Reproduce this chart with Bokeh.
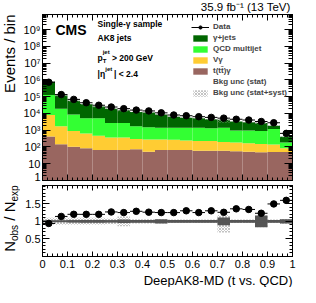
import math
from bokeh.plotting import figure
from bokeh.layouts import column, row
from bokeh.models import (ColumnDataSource, FixedTicker, LogAxis, LinearAxis, Label,
                          Legend, LegendItem, Range1d, Title)
from bokeh.core.properties import value
from bokeh.embed import file_html
from bokeh.resources import INLINE

# ---------------- data ----------------
bin_edges = [round(0.05 * i, 2) for i in range(21)]
tt_gamma = [427, 145, 102, 83, 66, 66, 66, 72, 52, 66, 66, 66, 60, 60, 60, 55, 52, 49, 50, 50]
v_gamma = [7520, 1590, 790, 548, 400, 306, 306, 230, 223, 209, 203, 179, 164, 164, 135, 127, 114, 102, 91, 35]
qcd = [117950, 17320, 7820, 4500, 4660, 2320, 2320, 1440, 1240, 1105, 1110, 1135, 1155, 1065, 1220, 775, 790, 740, 1035, 100]
gjets = [650350, 98400, 48800, 31200, 20600, 16400, 12800, 10600, 9700, 7330, 5080, 4240, 3750, 3180, 2760, 2360, 2070, 1800, 690, 220]
data = [729700, 133900, 69050, 43570, 30850, 24200, 19360, 15870, 14140, 10890, 8070, 7310, 6410, 5810, 5250, 4500, 4050, 3310, 2790, 647]
data_err = [850, 370, 260, 210, 180, 160, 140, 130, 120, 105, 90, 85, 80, 76, 72, 67, 64, 242, 75, 25]
stat_rel = [0.02, 0.02, 0.03, 0.04, 0.04, 0.03, 0.05, 0.04, 0.04, 0.06, 0.04, 0.04, 0.04, 0.04, 0.11, 0.04, 0.04, 0.17, 0.04, 0.06]
syst_lo = [0.10, 0.10, 0.10, 0.10, 0.10, 0.08, 0.14, 0.06, 0.06, 0.06, 0.05, 0.05, 0.05, 0.05, 0.32, 0.05, 0.05, 0.17, 0.05, 0.07]
syst_hi = [0.10, 0.10, 0.10, 0.10, 0.10, 0.08, 0.14, 0.06, 0.06, 0.06, 0.05, 0.05, 0.05, 0.05, 0.18, 0.05, 0.05, 0.17, 0.05, 0.07]

main_yticks = [1.0, 10.0, 1e2, 1e3, 1e4, 1e5, 1e6, 1e7, 1e8, 1e9]
main_ylabels = ["1", "10", "10²", "10³", "10⁴", "10⁵", "10⁶", "10⁷", "10⁸", "10⁹"]
ratio_yticks = [0.5, 1.0, 1.5]
ratio_ylabels = ["0.5", "1", "1.5"]
xticks = [0.0, 0.1, 0.2, 0.3, 0.4, 0.5, 0.6, 0.7, 0.8, 0.9, 1.0]
xlabels = ["0", "0.1", "0.2", "0.3", "0.4", "0.5", "0.6", "0.7", "0.8", "0.9", "1"]

legend_labels = ["Data", "γ+jets", "QCD multijet", "Vγ", "t(tt̄)γ", "Bkg unc (stat)", "Bkg unc (stat+syst)"]

C_GJ = "#006600"
C_QCD = "#33ff33"
C_V = "#ffcc33"
C_TT = "#996660"
C_STAT = "#555555"
FONT = "Liberation Sans"

# ---------------- derived ----------------
n = len(data)
left = bin_edges[:-1]
right = bin_edges[1:]
center = [(a + b) / 2 for a, b in zip(left, right)]
c1 = list(tt_gamma)
c2 = [a + b for a, b in zip(c1, v_gamma)]
c3 = [a + b for a, b in zip(c2, qcd)]
tot = [a + b for a, b in zip(c3, gjets)]

src = ColumnDataSource(dict(
    left=left, right=right, center=center, c1=c1, c2=c2, c3=c3, tot=tot,
    base=[0.5] * n,
    data=data, dlo=[d - e for d, e in zip(data, data_err)], dhi=[d + e for d, e in zip(data, data_err)],
    band_lo=[t * (1 - l) for t, l in zip(tot, syst_lo)],
    band_hi=[t * (1 + h) for t, h in zip(tot, syst_hi)],
    r=[d / t for d, t in zip(data, tot)],
    rlo=[(d - e) / t for d, e, t in zip(data, data_err, tot)],
    rhi=[(d + e) / t for d, e, t in zip(data, data_err, tot)],
    s_lo=[1 - s for s in stat_rel], s_hi=[1 + s for s in stat_rel],
    y_lo=[1 - s for s in syst_lo], y_hi=[1 + s for s in syst_hi],
))


def style_axis(ax, major_in, minor_in, labels=True, size="11px"):
    ax.major_tick_in = major_in
    ax.major_tick_out = 0
    ax.minor_tick_in = minor_in
    ax.minor_tick_out = 0
    ax.axis_line_color = "black"
    ax.major_tick_line_color = "black"
    ax.minor_tick_line_color = "black"
    ax.major_label_text_font = FONT
    ax.major_label_text_color = "black"
    if labels:
        ax.major_label_text_font_size = size
        ax.major_label_standoff = 2
    else:
        ax.major_label_text_font_size = "0px"
        ax.major_label_text_alpha = 0
        ax.major_label_standoff = 0


def strip(w, h):
    f = figure(width=w, height=h, x_range=Range1d(0, w), y_range=Range1d(0, h),
               x_axis_location=None, y_axis_location=None,
               output_backend="svg", toolbar_location=None, min_border=0)
    f.xgrid.visible = False
    f.ygrid.visible = False
    f.outline_line_color = None
    return f


def txt(f, x, y, t, size, align="left", angle=0.0, bold=False):
    f.text(x=[x], y=[y], text=[t], angle=angle, text_font=value(FONT),
           text_font_size=value(size), text_align=align, text_baseline="middle",
           text_color="black", text_font_style="bold" if bold else "normal")


# ---------------- main panel ----------------
p = figure(width=280, height=169, y_axis_type="log",
           x_range=Range1d(0, 1), y_range=Range1d(1, 8e9),
           output_backend="svg", toolbar_location=None,
           min_border_left=19, min_border_right=8, min_border_top=1, min_border_bottom=2)
p.xgrid.visible = False
p.ygrid.visible = False
p.outline_line_color = "black"
p.background_fill_color = "white"
p.border_fill_color = "white"

r_tt = p.quad(left="left", right="right", bottom="base", top="c1", source=src, fill_color=C_TT, line_color=None)
r_v = p.quad(left="left", right="right", bottom="c1", top="c2", source=src, fill_color=C_V, line_color=None)
r_qcd = p.quad(left="left", right="right", bottom="c2", top="c3", source=src, fill_color=C_QCD, line_color=None)
r_gj = p.quad(left="left", right="right", bottom="c3", top="tot", source=src, fill_color=C_GJ, line_color=None)
r_band = p.quad(left="left", right="right", bottom="band_lo", top="band_hi", source=src,
                fill_alpha=0, line_color=None, hatch_pattern="x", hatch_color="#999999",
                hatch_scale=3, hatch_weight=0.6)
empty = ColumnDataSource(dict(left=[], right=[], bottom=[], top=[]))
r_stat_dummy = p.quad(left="left", right="right", bottom="bottom", top="top", source=empty,
                      fill_color=C_STAT, line_color=None)
r_dseg = p.segment(x0="left", x1="right", y0="data", y1="data", source=src, line_color="black", line_width=1)
p.segment(x0="center", x1="center", y0="dlo", y1="dhi", source=src, line_color="black", line_width=1)
r_dpt = p.scatter(x="center", y="data", source=src, size=6.5, marker="circle", fill_color="black", line_color="black")

minor_log = [m * 10 ** k for k in range(10) for m in range(2, 10)]
minor_x = [round(0.02 * i, 2) for i in range(51)]
p.yaxis.ticker = FixedTicker(ticks=main_yticks, minor_ticks=minor_log)
p.yaxis.major_label_overrides = dict(zip(main_yticks, main_ylabels))
style_axis(p.yaxis[0], 8, 4)
p.xaxis.ticker = FixedTicker(ticks=xticks, minor_ticks=minor_x)
style_axis(p.xaxis[0], 6, 3, labels=False)

ra = LogAxis(ticker=FixedTicker(ticks=main_yticks, minor_ticks=minor_log))
style_axis(ra, 8, 4, labels=False)
p.add_layout(ra, "right")
ta = LinearAxis(ticker=FixedTicker(ticks=xticks, minor_ticks=minor_x))
style_axis(ta, 6, 3, labels=False)
p.add_layout(ta, "above")

legend = Legend(items=[
    LegendItem(label=legend_labels[0], renderers=[r_dseg, r_dpt]),
    LegendItem(label=legend_labels[1], renderers=[r_gj]),
    LegendItem(label=legend_labels[2], renderers=[r_qcd]),
    LegendItem(label=legend_labels[3], renderers=[r_v]),
    LegendItem(label=legend_labels[4], renderers=[r_tt]),
    LegendItem(label=legend_labels[5], renderers=[r_stat_dummy]),
    LegendItem(label=legend_labels[6], renderers=[r_band]),
], location=(149, 83), glyph_width=18, glyph_height=8, label_height=8, label_standoff=4,
    spacing=2, padding=0, margin=0, border_line_color=None, background_fill_alpha=0,
    label_text_font=FONT, label_text_font_style="bold", label_text_font_size="8px")
p.add_layout(legend, "center")

FB = 188  # main frame bottom (page)
FL = 47   # frame left (page)


def lab(fig, fb, px, pmid, text, size, bold=False, align="left"):
    fig.add_layout(Label(x=px - FL, y=fb - pmid, x_units="screen", y_units="screen", text=text,
                         text_font=FONT, text_font_size=size,
                         text_font_style="bold" if bold else "normal",
                         text_align=align, text_baseline="middle", text_color="black"))


lab(p, FB, 60, 37.5, "CMS", "14px", bold=True)
lab(p, FB, 102, 31.4, "Single-γ sample", "8.5px", bold=True)
lab(p, FB, 102, 45.7, "AK8 jets", "8.5px", bold=True)
lab(p, FB, 102, 65.6, "p", "8.5px", bold=True)
lab(p, FB, 107.2, 68.8, "T", "6px", bold=True)
lab(p, FB, 107.2, 59.7, "jet", "6px", bold=True)
lab(p, FB, 116.5, 65.6, "> 200 GeV", "8.5px", bold=True)
lab(p, FB, 102, 81.7, "|η", "8.5px", bold=True)
lab(p, FB, 109.8, 76.3, "jet", "6px", bold=True)
lab(p, FB, 118.5, 81.7, "| < 2.4", "8.5px", bold=True)

# ---------------- ratio panel ----------------
p2 = figure(width=280, height=105, x_range=p.x_range, y_range=Range1d(0.0, 2.02),
            output_backend="svg", toolbar_location=None,
            min_border_left=19, min_border_right=8, min_border_top=3, min_border_bottom=2)
p2.xgrid.visible = False
p2.ygrid.visible = False
p2.outline_line_color = "black"
p2.background_fill_color = "white"
p2.border_fill_color = "white"

p2.quad(left="left", right="right", bottom="y_lo", top="y_hi", source=src,
        fill_alpha=0, line_color=None, hatch_pattern="x", hatch_color="#999999",
        hatch_scale=3, hatch_weight=0.6)
p2.quad(left="left", right="right", bottom="s_lo", top="s_hi", source=src,
        fill_color=C_STAT, line_color=None)
p2.line(x=[0, 1], y=[1, 1], line_color=C_STAT, line_width=2)
p2.segment(x0="left", x1="right", y0="r", y1="r", source=src, line_color="black", line_width=1)
p2.segment(x0="center", x1="center", y0="rlo", y1="rhi", source=src, line_color="black", line_width=1)
p2.scatter(x="center", y="r", source=src, size=6.5, marker="circle", fill_color="black", line_color="black")

minor_r = [round(0.1 * i, 1) for i in range(21)]
p2.yaxis.ticker = FixedTicker(ticks=ratio_yticks, minor_ticks=minor_r)
p2.yaxis.major_label_overrides = dict(zip(ratio_yticks, ratio_ylabels))
style_axis(p2.yaxis[0], 7, 3)
p2.xaxis.ticker = FixedTicker(ticks=xticks, minor_ticks=minor_x)
p2.xaxis.major_label_overrides = dict(zip(xticks, xlabels))
style_axis(p2.xaxis[0], 5, 3)
p2.xaxis.major_label_standoff = 3

p2.add_layout(Title(text="DeepAK8-MD (t vs. QCD)", align="right", text_font=FONT,
                    text_font_size="13px", text_font_style="normal", text_color="black",
                    standoff=0, offset=0), "below")

ra2 = LinearAxis(ticker=FixedTicker(ticks=ratio_yticks, minor_ticks=minor_r))
style_axis(ra2, 7, 3, labels=False)
p2.add_layout(ra2, "right")
ta2 = LinearAxis(ticker=FixedTicker(ticks=xticks, minor_ticks=minor_x))
style_axis(ta2, 5, 3, labels=False)
p2.add_layout(ta2, "above")

# ---------------- text strips outside the frames ----------------
top = strip(300, 13)          # page y 8..21
txt(top, 290, 6.5, "35.9 fb⁻¹ (13 TeV)", "11.5px", align="right")

lft = strip(20, 274)          # page x 8..28, y 21..295
txt(lft, 8.8, 273, "Events / bin", "15px", align="right", angle=math.pi / 2)
txt(lft, 8.8, 35.7, "N", "15px", angle=math.pi / 2)
txt(lft, 13.5, 46.5, "obs", "10px", angle=math.pi / 2)
txt(lft, 8.8, 66.8, "/ N", "15px", angle=math.pi / 2)
txt(lft, 13.5, 86.0, "exp", "10px", angle=math.pi / 2)

layout = column(top, row(lft, column(p, p2, spacing=0), spacing=0), spacing=0)
open("out.html", "w").write(file_html(layout, INLINE))
